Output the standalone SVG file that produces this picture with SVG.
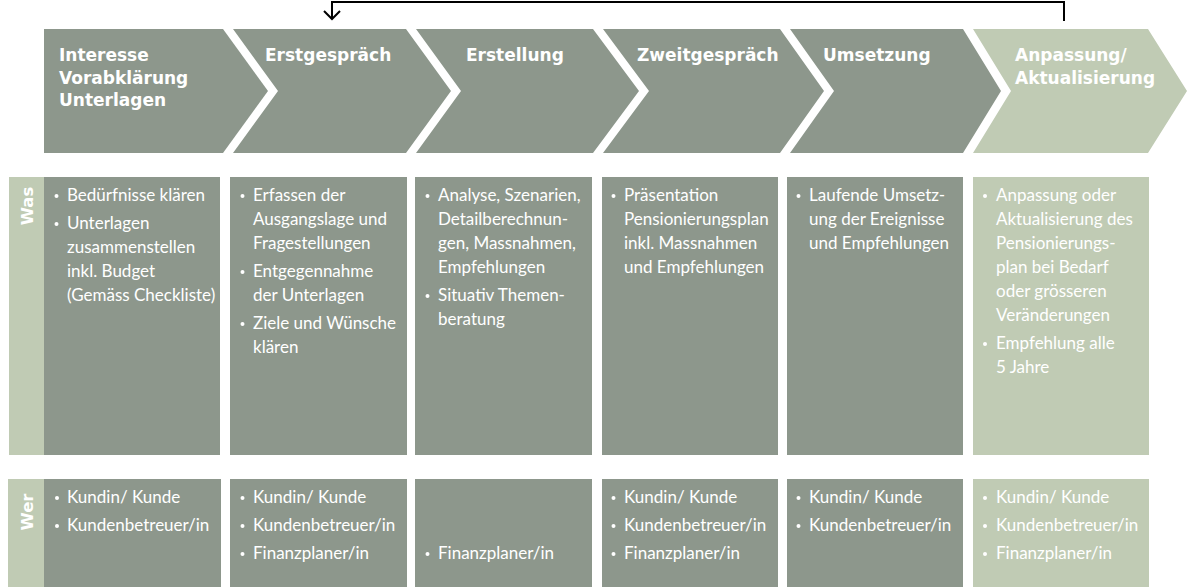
<svg xmlns="http://www.w3.org/2000/svg" width="1197" height="587" viewBox="0 0 1197 587">
<defs>
<style>
.dark{fill:#8d978c}
.light{fill:#c0cbb4}
.hd{font-family:"DejaVu Sans",sans-serif;font-weight:bold;font-size:17px;fill:#fff}
.side{font-family:"DejaVu Sans",sans-serif;font-weight:bold;font-size:16.5px;fill:#fff;text-anchor:middle}
.tx{font-family:Lato,"Open Sans",sans-serif;font-size:17px;fill:#fff}
.bl{fill:#fff}
.conn{fill:none;stroke:#000;stroke-width:2}
</style>
<marker id="openArrow" markerUnits="userSpaceOnUse" markerWidth="20" markerHeight="20" viewBox="-10 -10 20 20" refX="0" refY="0" orient="auto">
<path d="M-8,-8 L0,0 L-8,8" fill="none" stroke="#000" stroke-width="2"/>
</marker>
</defs>
<rect width="1197" height="587" fill="#fff"/>

<g id="connectors">
<path class="conn" d="M1064,21 V2 H332 V19" marker-end="url(#openArrow)"/>
</g>

<g id="step-1">
<polygon class="dark" points="44,29 223,29 268,91 223,153 44,153"/>
<text class="hd" x="59" y="61">Interesse</text>
<text class="hd" x="59" y="83.5">Vorabklärung</text>
<text class="hd" x="59" y="106">Unterlagen</text>
</g>
<g id="step-2">
<polygon class="dark" points="233,29 406,29 451,91 406,153 233,153 278,91"/>
<text class="hd" x="265" y="61">Erstgespräch</text>
</g>
<g id="step-3">
<polygon class="dark" points="416,29 593,29 639,91 593,153 416,153 461,91"/>
<text class="hd" x="466" y="61">Erstellung</text>
</g>
<g id="step-4">
<polygon class="dark" points="603,29 780,29 824,91 780,153 603,153 649,91"/>
<text class="hd" x="637" y="61">Zweitgespräch</text>
</g>
<g id="step-5">
<polygon class="dark" points="790,29 963,29 1001,91 963,153 790,153 834,91"/>
<text class="hd" x="823" y="61">Umsetzung</text>
</g>
<g id="step-6">
<polygon class="light" points="973,29 1148,29 1187,91 1148,153 973,153 1011,91"/>
<text class="hd" x="1015" y="61">Anpassung/</text>
<text class="hd" x="1015" y="83.5">Aktualisierung</text>
</g>

<g id="label-was">
<rect class="light" x="9" y="177" width="35" height="278"/>
<text class="side" transform="translate(33,206) rotate(-90)">Was</text>
</g>
<g id="label-wer">
<rect class="light" x="8" y="479" width="36" height="108"/>
<text class="side" transform="translate(33,512) rotate(-90)">Wer</text>
</g>

<g id="was-1">
<rect class="dark" x="44" y="177" width="176" height="278"/>
<circle class="bl" cx="56.5" cy="196" r="2"/>
<circle class="bl" cx="56.5" cy="224" r="2"/>
<text class="tx" x="67" y="201">Bedürfnisse klären</text>
<text class="tx" x="67" y="229">Unterlagen</text>
<text class="tx" x="67" y="253">zusammenstellen</text>
<text class="tx" x="67" y="277">inkl. Budget</text>
<text class="tx" x="67" y="301">(Gemäss Checkliste)</text>
</g>
<g id="was-2">
<rect class="dark" x="230" y="177" width="177" height="278"/>
<circle class="bl" cx="242.5" cy="196" r="2"/>
<circle class="bl" cx="242.5" cy="272" r="2"/>
<circle class="bl" cx="242.5" cy="324" r="2"/>
<text class="tx" x="253" y="201">Erfassen der</text>
<text class="tx" x="253" y="225">Ausgangslage und</text>
<text class="tx" x="253" y="249">Fragestellungen</text>
<text class="tx" x="253" y="277">Entgegennahme</text>
<text class="tx" x="253" y="301">der Unterlagen</text>
<text class="tx" x="253" y="329">Ziele und Wünsche</text>
<text class="tx" x="253" y="353">klären</text>
</g>
<g id="was-3">
<rect class="dark" x="415" y="177" width="177" height="278"/>
<circle class="bl" cx="427.5" cy="196" r="2"/>
<circle class="bl" cx="427.5" cy="296" r="2"/>
<text class="tx" x="438" y="201">Analyse, Szenarien,</text>
<text class="tx" x="438" y="225">Detailberechnun-</text>
<text class="tx" x="438" y="249">gen, Massnahmen,</text>
<text class="tx" x="438" y="273">Empfehlungen</text>
<text class="tx" x="438" y="301">Situativ Themen-</text>
<text class="tx" x="438" y="325">beratung</text>
</g>
<g id="was-4">
<rect class="dark" x="602" y="177" width="176" height="278"/>
<circle class="bl" cx="613.5" cy="196" r="2"/>
<text class="tx" x="624" y="201">Präsentation</text>
<text class="tx" x="624" y="225">Pensionierungsplan</text>
<text class="tx" x="624" y="249">inkl. Massnahmen</text>
<text class="tx" x="624" y="273">und Empfehlungen</text>
</g>
<g id="was-5">
<rect class="dark" x="787" y="177" width="176" height="278"/>
<circle class="bl" cx="798.5" cy="196" r="2"/>
<text class="tx" x="809" y="201">Laufende Umsetz-</text>
<text class="tx" x="809" y="225">ung der Ereignisse</text>
<text class="tx" x="809" y="249">und Empfehlungen</text>
</g>
<g id="was-6">
<rect class="light" x="973" y="177" width="176" height="278"/>
<circle class="bl" cx="985" cy="196" r="2"/>
<circle class="bl" cx="985" cy="344" r="2"/>
<text class="tx" x="996" y="201">Anpassung oder</text>
<text class="tx" x="996" y="225">Aktualisierung des</text>
<text class="tx" x="996" y="249">Pensionierungs-</text>
<text class="tx" x="996" y="273">plan bei Bedarf</text>
<text class="tx" x="996" y="297">oder grösseren</text>
<text class="tx" x="996" y="321">Veränderungen</text>
<text class="tx" x="996" y="349">Empfehlung alle</text>
<text class="tx" x="996" y="373">5 Jahre</text>
</g>

<g id="wer-1">
<rect class="dark" x="44" y="479" width="177" height="108"/>
<circle class="bl" cx="57" cy="498" r="2"/>
<circle class="bl" cx="57" cy="526" r="2"/>
<text class="tx" x="67" y="503">Kundin/ Kunde</text>
<text class="tx" x="67" y="531">Kundenbetreuer/in</text>
</g>
<g id="wer-2">
<rect class="dark" x="230" y="479" width="177" height="108"/>
<circle class="bl" cx="242.5" cy="498" r="2"/>
<circle class="bl" cx="242.5" cy="526" r="2"/>
<circle class="bl" cx="242.5" cy="554" r="2"/>
<text class="tx" x="253" y="503">Kundin/ Kunde</text>
<text class="tx" x="253" y="531">Kundenbetreuer/in</text>
<text class="tx" x="253" y="559">Finanzplaner/in</text>
</g>
<g id="wer-3">
<rect class="dark" x="415" y="479" width="177" height="108"/>
<circle class="bl" cx="427.5" cy="554" r="2"/>
<text class="tx" x="438" y="559">Finanzplaner/in</text>
</g>
<g id="wer-4">
<rect class="dark" x="602" y="479" width="176" height="108"/>
<circle class="bl" cx="613.5" cy="498" r="2"/>
<circle class="bl" cx="613.5" cy="526" r="2"/>
<circle class="bl" cx="613.5" cy="554" r="2"/>
<text class="tx" x="624" y="503">Kundin/ Kunde</text>
<text class="tx" x="624" y="531">Kundenbetreuer/in</text>
<text class="tx" x="624" y="559">Finanzplaner/in</text>
</g>
<g id="wer-5">
<rect class="dark" x="787" y="479" width="176" height="108"/>
<circle class="bl" cx="798.5" cy="498" r="2"/>
<circle class="bl" cx="798.5" cy="526" r="2"/>
<text class="tx" x="809" y="503">Kundin/ Kunde</text>
<text class="tx" x="809" y="531">Kundenbetreuer/in</text>
</g>
<g id="wer-6">
<rect class="light" x="973" y="479" width="176" height="108"/>
<circle class="bl" cx="985" cy="498" r="2"/>
<circle class="bl" cx="985" cy="526" r="2"/>
<circle class="bl" cx="985" cy="554" r="2"/>
<text class="tx" x="996" y="503">Kundin/ Kunde</text>
<text class="tx" x="996" y="531">Kundenbetreuer/in</text>
<text class="tx" x="996" y="559">Finanzplaner/in</text>
</g>
</svg>
